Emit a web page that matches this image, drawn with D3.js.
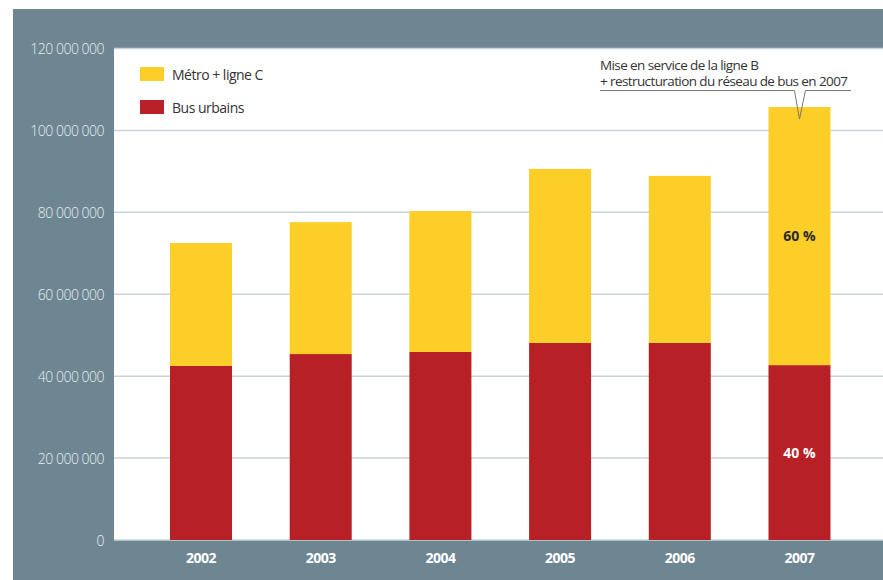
<!DOCTYPE html>
<html>
<head>
<meta charset="utf-8">
<script src="https://cdn.jsdelivr.net/npm/d3@7"></script>
<style>
  body { margin: 0; background: #fff; }
  svg { display: block; }
</style>
</head>
<body>
<svg id="chart" width="883" height="580"></svg>
<script>
// values (passengers per year)
const years = ["2002", "2003", "2004", "2005", "2006", "2007"];
const bus = [42.5e6, 45.4e6, 45.9e6, 48.1e6, 48.1e6, 42.7e6];
const metro = [30.0e6, 32.2e6, 34.4e6, 42.5e6, 40.8e6, 63.0e6];
const yTicks = [0, 20e6, 40e6, 60e6, 80e6, 100e6, 120e6];
const seriesNames = ["Métro + ligne C", "Bus urbains"];
const shares2007 = ["60 %", "40 %"];
const note = ["Mise en service de la ligne B", "+ restructuration du réseau de bus en 2007"];

const colors = { metro: "#fdce27", bus: "#b72126", frame: "#6d8692", grid: "#c9d3d8" };
const font = "'Open Sans', 'Noto Sans', sans-serif";

const svg = d3.select("#chart");
const plot = { left: 114, right: 883, top: 48.5, bottom: 540 };

// grey frame + white plot area
svg.append("rect").attr("x", 13).attr("y", 9).attr("width", 870).attr("height", 571)
    .attr("fill", colors.frame);
svg.append("rect").attr("x", plot.left).attr("y", plot.top)
    .attr("width", plot.right - plot.left).attr("height", plot.bottom - plot.top)
    .attr("fill", "#fff");

let x = d3.scaleBand()
    .domain(years)
    .range([plot.left, 886.5])
    .paddingInner(0.482)
    .paddingOuter(0.468);

let y = d3.scaleLinear()
    .domain([0, 120e6])
    .range([plot.bottom, plot.top]);

// gridlines
svg.append("g")
    .selectAll("line")
    .data(yTicks)
    .join("line")
    .attr("x1", plot.left).attr("x2", plot.right)
    .attr("y1", d => y(d)).attr("y2", d => y(d))
    .attr("stroke", colors.grid)
    .attr("stroke-width", 1.5);

// y axis labels
const fmt = d => d3.format(",")(d).replace(/,/g, " ");
svg.append("g")
    .attr("transform", "translate(104,1)")
    .call(d3.axisLeft(y).tickValues(yTicks).tickSize(0).tickPadding(0).tickFormat(fmt))
    .call(g => g.select(".domain").remove())
    .call(g => g.selectAll("text")
        .attr("fill", "#e8eef1")
        .attr("font-family", font)
        .attr("font-size", "14px")
        .attr("font-weight", 300)
        .attr("letter-spacing", "-0.5px"));

// stacked bars
const rows = years.map((yr, i) => ({ year: yr, bus: bus[i], metro: metro[i] }));
const stacked = d3.stack().keys(["bus", "metro"])(rows);

svg.append("g")
    .selectAll("g")
    .data(stacked)
    .join("g")
    .attr("fill", d => colors[d.key])
    .selectAll("rect")
    .data(d => d)
    .join("rect")
    .attr("x", d => x(d.data.year))
    .attr("width", x.bandwidth())
    .attr("y", d => y(d[1]))
    .attr("height", d => y(d[0]) - y(d[1]));

// x axis labels
svg.append("g")
    .attr("transform", "translate(0," + (plot.bottom + 13) + ")")
    .call(d3.axisBottom(x).tickSize(0).tickPadding(0))
    .call(g => g.select(".domain").remove())
    .call(g => g.selectAll("text")
        .attr("fill", "#fff")
        .attr("font-family", font)
        .attr("font-size", "14px")
        .attr("font-weight", 700)
        .attr("letter-spacing", "-0.5px"));

// legend
const legend = svg.append("g");
[colors.metro, colors.bus].forEach((c, i) => {
    legend.append("rect")
        .attr("x", 140).attr("y", 67 + i * 33)
        .attr("width", 24).attr("height", 14)
        .attr("fill", c);
    legend.append("text")
        .attr("x", 172).attr("y", 79.5 + i * 33)
        .attr("font-family", font).attr("font-size", "14px")
        .attr("letter-spacing", "-0.5px")
        .attr("fill", "#333")
        .text(seriesNames[i]);
});

// shares on the 2007 bar, centred in each segment
const last = years.length - 1;
const cx = x(years[last]) + x.bandwidth() / 2;
svg.append("text")
    .attr("x", cx).attr("y", y(bus[last] + metro[last] / 2) + 5)
    .attr("text-anchor", "middle")
    .attr("font-family", font).attr("font-size", "14px").attr("font-weight", 700)
    .attr("fill", "#2b2b2b")
    .text(shares2007[0]);
svg.append("text")
    .attr("x", cx).attr("y", y(bus[last] / 2) + 5)
    .attr("text-anchor", "middle")
    .attr("font-family", font).attr("font-size", "14px").attr("font-weight", 700)
    .attr("fill", "#fff")
    .text(shares2007[1]);

// annotation
const ann = svg.append("g")
    .attr("font-family", font).attr("font-size", "13.5px")
    .attr("letter-spacing", "-0.6px")
    .attr("fill", "#333");
ann.append("text").attr("x", 600).attr("y", 70).text(note[0]);
ann.append("text").attr("x", 600).attr("y", 86).text(note[1]);
const tipY = y(bus[last] + metro[last]) + 12;
ann.append("path")
    .attr("d", "M600,90.5H" + (cx - 5) + "L" + cx + "," + tipY + "L" + (cx + 6) + ",90.5H851")
    .attr("fill", "none")
    .attr("stroke", "#777")
    .attr("stroke-width", 1);
</script>
</body>
</html>
